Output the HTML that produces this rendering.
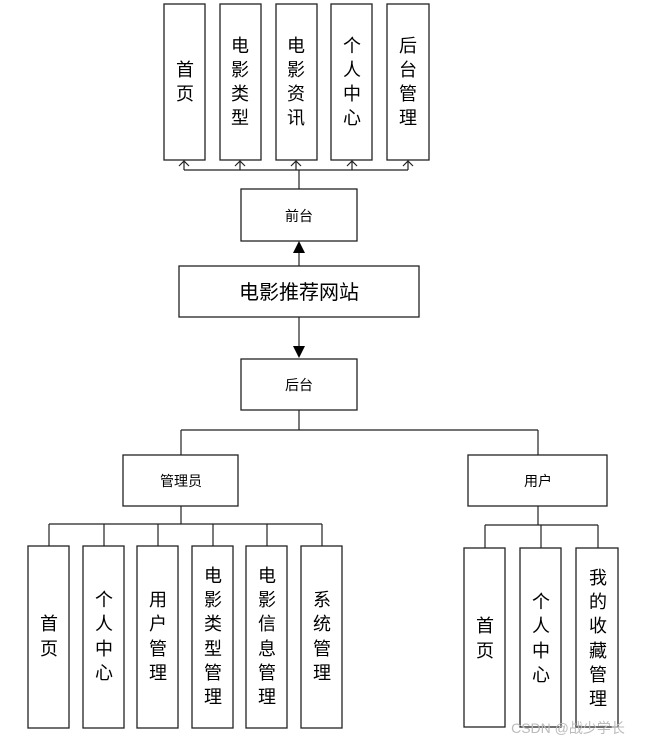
<!DOCTYPE html>
<html><head><meta charset="utf-8"><style>
body{margin:0;background:#fff;width:652px;height:745px;overflow:hidden}
svg text{font-family:"Liberation Sans","Noto Sans CJK SC",sans-serif;fill:#000}
</style></head><body>
<svg width="652" height="745" viewBox="0 0 652 745" xmlns="http://www.w3.org/2000/svg">
<defs>
<marker id="open" markerWidth="10" markerHeight="8" refX="5" refY="1" orient="auto-start-reverse" markerUnits="userSpaceOnUse">
</marker>
</defs>
<g fill="#fff" stroke="#222" stroke-width="1.3">
<rect x="164" y="4" width="41" height="156"/>
<rect x="220" y="4" width="41" height="156"/>
<rect x="276" y="4" width="41" height="156"/>
<rect x="331" y="4" width="41" height="156"/>
<rect x="387" y="4" width="42" height="156"/>
<rect x="241" y="189" width="116" height="52"/>
<rect x="179" y="266" width="240" height="51"/>
<rect x="241" y="359" width="116" height="51"/>
<rect x="123" y="455" width="115" height="51"/>
<rect x="468" y="455" width="139" height="51"/>
<rect x="28" y="546" width="41" height="182"/>
<rect x="83" y="546" width="41" height="182"/>
<rect x="137" y="546" width="41" height="182"/>
<rect x="192" y="546" width="41" height="182"/>
<rect x="246" y="546" width="41" height="182"/>
<rect x="301" y="546" width="41" height="182"/>
<rect x="464" y="548" width="41" height="179"/>
<rect x="520" y="548" width="41" height="179"/>
<rect x="576" y="548" width="42" height="179"/>
</g>
<g fill="none" stroke="#222" stroke-width="1.2">
<path d="M184 170H408M184 170V161M240 170V161M296 170V161M352 170V161M408 170V161M299 170V189"/>
<path d="M179 166l5-5 5 5M235 166l5-5 5 5M291 166l5-5 5 5M347 166l5-5 5 5M403 166l5-5 5 5"/>
<path d="M299 266V250M299 317V348"/>
<path d="M299 410V430M181 430H538M181 430V455M538 430V455"/>
<path d="M181 506V524M49 524H322M49 524V546M104 524V546M158 524V546M213 524V546M267 524V546M322 524V546"/>
<path d="M538 506V525M485 525H598M485 525V548M541 525V548M598 525V548"/>
</g>
<path d="M293 253L299 241L305 253Z" fill="#000"/>
<path d="M293 346L299 358L305 346Z" fill="#000"/>
<g font-size="18" text-anchor="middle">
<text x="185" y="76">首</text><text x="185" y="100">页</text>
<text x="240" y="52">电</text><text x="240" y="76">影</text><text x="240" y="100">类</text><text x="240" y="124">型</text>
<text x="296" y="52">电</text><text x="296" y="76">影</text><text x="296" y="100">资</text><text x="296" y="124">讯</text>
<text x="352" y="52">个</text><text x="352" y="76">人</text><text x="352" y="100">中</text><text x="352" y="124">心</text>
<text x="408" y="52">后</text><text x="408" y="76">台</text><text x="408" y="100">管</text><text x="408" y="124">理</text>
<text x="49" y="630">首</text><text x="49" y="655">页</text>
<text x="104" y="606">个</text><text x="104" y="630">人</text><text x="104" y="655">中</text><text x="104" y="679">心</text>
<text x="158" y="606">用</text><text x="158" y="630">户</text><text x="158" y="655">管</text><text x="158" y="679">理</text>
<text x="213" y="582">电</text><text x="213" y="606">影</text><text x="213" y="630">类</text><text x="213" y="655">型</text><text x="213" y="679">管</text><text x="213" y="703">理</text>
<text x="267" y="582">电</text><text x="267" y="606">影</text><text x="267" y="630">信</text><text x="267" y="655">息</text><text x="267" y="679">管</text><text x="267" y="703">理</text>
<text x="322" y="606">系</text><text x="322" y="630">统</text><text x="322" y="655">管</text><text x="322" y="679">理</text>
<text x="485" y="632">首</text><text x="485" y="657">页</text>
<text x="541" y="608">个</text><text x="541" y="632">人</text><text x="541" y="657">中</text><text x="541" y="681">心</text>
<text x="598" y="584">我</text><text x="598" y="608">的</text><text x="598" y="632">收</text><text x="598" y="657">藏</text><text x="598" y="681">管</text><text x="598" y="705">理</text>
</g>
<g font-size="14" text-anchor="middle">
<text x="299" y="221">前台</text>
<text x="299" y="390">后台</text>
<text x="181" y="486">管理员</text>
<text x="538" y="486">用户</text>
</g>
<text x="299" y="299" font-size="20" text-anchor="middle">电影推荐网站</text>
<text x="568" y="733" font-size="14" text-anchor="middle" fill="#bbb" style="fill:#bbb">CSDN @战少学长</text>
</svg>
</body></html>
